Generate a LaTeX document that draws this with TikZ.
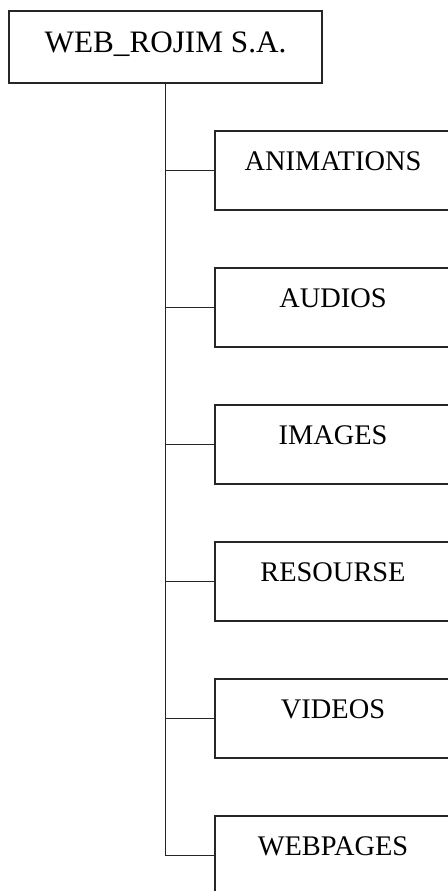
\documentclass[tikz,border=0pt]{standalone}
\usepackage{fontspec}
\setmainfont{Liberation Serif}
\tikzset{
  rootbox/.style={draw=black!85, line width=0.6pt, inner sep=0pt, minimum width=156.5pt,
    text height=20.5pt, text depth=15.5pt, font=\fontsize{15.6}{18}\selectfont},
  folderbox/.style={draw=black!85, line width=0.6pt, inner sep=0pt, minimum width=118pt,
    text height=19.5pt, text depth=20pt, font=\fontsize{14.2}{17}\selectfont},
  link/.style={draw=black!85, line width=0.6pt}
}
\begin{document}
\begin{tikzpicture}[x=0.5pt,y=-0.5pt] % page frame
    \useasboundingbox (0,0) rectangle (448,891);
    \clip (0,0) rectangle (448,891);

    % Root box
    \node[rootbox] (root) at (165.5,47) {WEB\_ROJIM S.A.};

    % Folder boxes
    \foreach \name [count=\i] in {ANIMATIONS,AUDIOS,IMAGES,RESOURSE,VIDEOS,WEBPAGES}
      \node[folderbox] (f\i) at (333,{33.5+137*\i}) {\name};

    % Draw trunk and branches
    \draw[link] (root.south) -- (root.south |- f6.west);
    \foreach \i in {1,...,6}
      \draw[link] (root.south |- f\i.west) -- (f\i.west);

  \end{tikzpicture}
\end{document}
